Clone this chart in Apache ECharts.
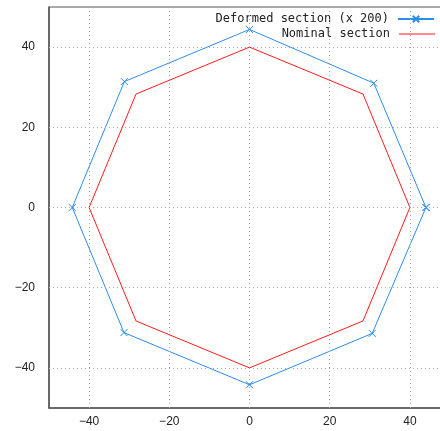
<!DOCTYPE html>
<html>
<head>
<meta charset="utf-8">
<script src="https://cdn.jsdelivr.net/npm/echarts@6/dist/echarts.min.js"></script>
<style>
  html, body { margin: 0; padding: 0; background: #fff; }
  #chart { width: 440px; height: 431px; }
</style>
</head>
<body>
<div id="chart"></div>
<script>
// octagon vertices, closed (first point repeated at the end)
const nominalX = [40, 28.3, 0, -28.3, -40, -28.3, 0, 28.3, 40];
const nominalY = [0, 28.3, 40, 28.3, 0, -28.3, -40, -28.3, 0];

const deformedX = [44, 31, 0, -31.2, -44.2, -31.3, 0, 30.6, 44];
const deformedY = [0, 31, 44.4, 31.4, 0, -31.2, -44.2, -31.4, 0];

const xTicks = [-40, -20, 0, 20, 40];
const yTicks = [-40, -20, 0, 20, 40];

const blue = '#2b8cf0';
const red = '#ff1a1a';

function pairs(xs, ys) {
  return xs.map((x, i) => [x, ys[i]]);
}

const chart = echarts.init(document.getElementById('chart'));

const axisCommon = {
  type: 'value',
  min: -50,
  max: 50,
  interval: 10,
  axisLine: { show: true, onZero: false, lineStyle: { color: '#555', width: 1.5 } },
  axisTick: { show: false },
  splitLine: { show: false },
  axisLabel: {
    color: '#222',
    fontFamily: 'Liberation Sans, Arial, sans-serif',
    fontSize: 12,
    showMinLabel: false,
    showMaxLabel: false,
    formatter: v => (v % 20 === 0 ? String(v).replace('-', '\u2212') : '')
  }
};

// dotted grid lines at the labelled ticks
const gridLines = [];
xTicks.forEach(v => gridLines.push([{ coord: [v, -50] }, { coord: [v, 50] }]));
yTicks.forEach(v => gridLines.push([{ coord: [-50, v] }, { coord: [50, v] }]));

const legendText = { fontFamily: 'DejaVu Sans Mono', fontSize: 12, color: '#222', padding: [0, 4, 0, 0] };

const option = {
  animation: false,
  grid: {
    left: 49, top: 7, right: -10, bottom: 23,
    outerBoundsMode: 'none',
    containLabel: false,
    show: true, borderColor: '#555', borderWidth: 1
  },
  xAxis: Object.assign({}, axisCommon, {
    axisLabel: Object.assign({}, axisCommon.axisLabel, { margin: 8 })
  }),
  yAxis: Object.assign({}, axisCommon, {
    axisLabel: Object.assign({}, axisCommon.axisLabel, { margin: 14 })
  }),
  legend: [{
    data: ['Deformed section (x 200)'],
    right: 0, top: 8,
    align: 'right',
    itemWidth: 36, itemHeight: 8,
    textStyle: legendText
  }, {
    data: [{ name: 'Nominal section', icon: 'rect' }],
    right: 0, top: 23,
    align: 'right',
    itemWidth: 36, itemHeight: 1,
    textStyle: legendText
  }],
  series: [{
    name: 'grid',
    type: 'line',
    data: [],
    silent: true,
    markLine: {
      silent: true,
      symbol: 'none',
      label: { show: false },
      lineStyle: { color: '#aaa', type: [1, 3], width: 1 },
      data: gridLines
    }
  }, {
    name: 'Deformed section (x 200)',
    type: 'line',
    data: pairs(deformedX, deformedY),
    symbol: 'path://M0,0L10,10M10,0L0,10',
    symbolSize: 7,
    showSymbol: true,
    itemStyle: { color: blue, borderColor: blue, borderWidth: 1 },
    lineStyle: { color: blue, width: 1 }
  }, {
    name: 'Nominal section',
    type: 'line',
    data: pairs(nominalX, nominalY),
    symbol: 'none',
    itemStyle: { color: red },
    lineStyle: { color: red, width: 1 }
  }]
};

chart.setOption(option);
</script>
</body>
</html>
